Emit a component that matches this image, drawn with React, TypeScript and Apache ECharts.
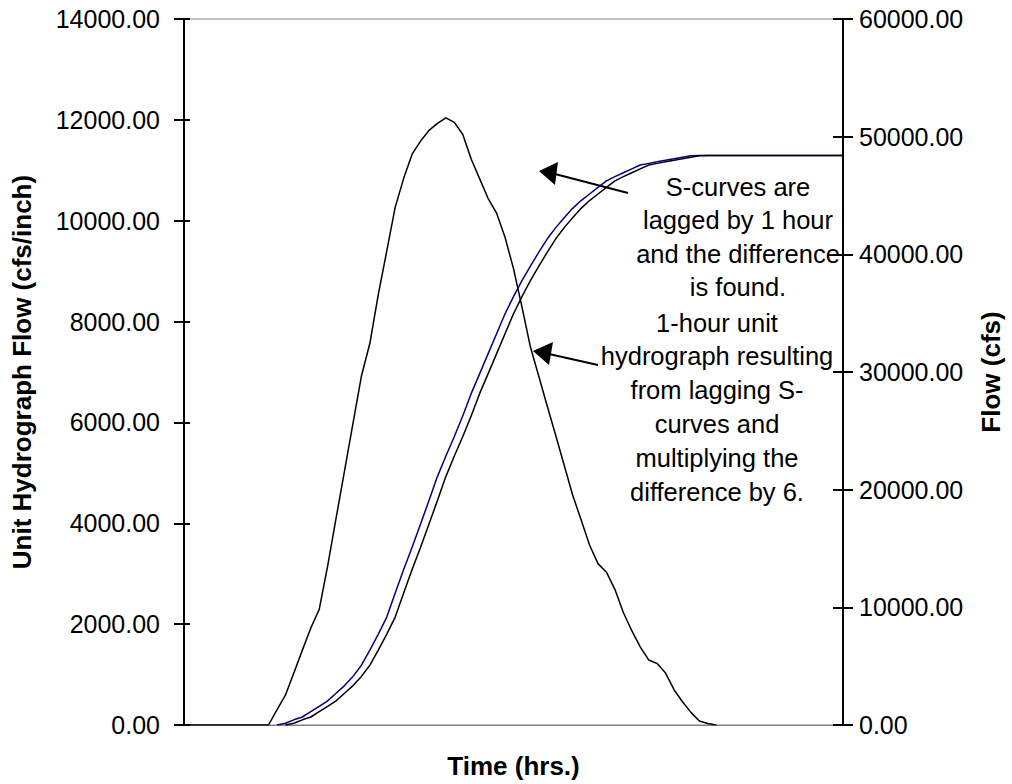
import React, { useEffect, useRef } from "react";
import * as echarts from "echarts";

const hours = [
  "0","1","2","3","4","5","6","7","8","9","10","11","12","13","14","15","16","17","18","19",
  "20","21","22","23","24","25","26","27","28","29","30","31","32","33","34","35","36","37","38","39",
  "40","41","42","43","44","45","46","47","48","49","50","51","52","53","54","55","56","57","58","59",
  "60","61","62","63","64","65","66","67","68","69","70","71","72","73","74","75","76","77","78",
];

// 1-hour unit hydrograph (cfs/inch), left axis
const unitHydrograph = [
  0, 0, 0, 0, 0, 0, 0, 0, 0, 0, 0,
  300, 590, 1030, 1480, 1920, 2290, 3150, 4100, 5040, 5980,
  6920, 7570, 8540, 9400, 10270, 10840, 11320, 11580, 11790, 11930,
  12040, 11950, 11710, 11220, 10830, 10440, 10150, 9670, 9050, 8290,
  7500, 6910, 6320, 5740, 5150, 4560, 4070, 3570, 3200, 3030,
  2690, 2230, 1870, 1550, 1290, 1220, 1030, 700, 460, 250,
  80, 30, 0,
];

// S-curve (cfs), right axis
const sCurve = [
  null, null, null, null, null, null, null, null, null, null, null,
  0, 150, 440, 680, 1130, 1580, 2050, 2700, 3350, 4130,
  5080, 6360, 7720, 9170, 11220, 13210, 15110, 17090, 19080, 21130,
  22860, 24520, 26280, 28180, 29860, 31560, 33250, 34950, 36410, 37770,
  38990, 40190, 41320, 42270, 43100, 43910, 44570, 45130, 45690, 46240,
  46600, 46930, 47260, 47590, 47730, 47860, 48000, 48120, 48260, 48380,
  48400, 48400, 48400, 48400, 48400, 48400, 48400, 48400, 48400, 48400,
  48400, 48400, 48400, 48400, 48400, 48400, 48400, 48400,
];

// S-curve lagged by 1 hour (cfs), right axis
const sCurveLagged = [
  null, null, null, null, null, null, null, null, null, null, null, null,
  0, 150, 440, 680, 1130, 1580, 2050, 2700, 3350, 4130,
  5080, 6360, 7720, 9170, 11220, 13210, 15110, 17090, 19080, 21130,
  22860, 24520, 26280, 28180, 29860, 31560, 33250, 34950, 36410, 37770,
  38990, 40190, 41320, 42270, 43100, 43910, 44570, 45130, 45690, 46240,
  46600, 46930, 47260, 47590, 47730, 47860, 48000, 48120, 48260, 48380,
  48400, 48400, 48400, 48400, 48400, 48400, 48400, 48400, 48400, 48400,
  48400, 48400, 48400, 48400, 48400, 48400, 48400,
];

const note1 = "S-curves are\nlagged by 1 hour\nand the difference\nis found.";
const note2 =
  "1-hour unit\nhydrograph resulting\nfrom lagging S-\ncurves and\nmultiplying the\ndifference by 6.";

const FONT = "'Liberation Sans', Arial, Helvetica, sans-serif";

export default function App() {
  const ref = useRef<HTMLDivElement>(null);

  useEffect(() => {
    if (!ref.current) return;
    const chart = echarts.init(ref.current, null, { renderer: "svg" });
    const fmt = (v: number) => v.toFixed(2);
    const labelStyle = { color: "#000", fontSize: 25, fontFamily: FONT };
    const nameStyle = { color: "#000", fontSize: 26, fontWeight: "bold" as const, fontFamily: FONT };

    chart.setOption({
      animation: false,
      backgroundColor: "#fff",
      grid: {
        left: 184,
        right: 166,
        top: 19,
        bottom: 58,
        show: true,
        borderColor: "#808080",
        borderWidth: 1,
        backgroundColor: "transparent",
      },
      xAxis: {
        type: "category",
        data: hours,
        boundaryGap: false,
        axisLine: { show: true, lineStyle: { color: "#808080", width: 1 } },
        axisTick: { show: false },
        axisLabel: { show: false },
        splitLine: { show: false },
        name: "Time (hrs.)",
        nameLocation: "middle",
        nameGap: 28,
        nameTextStyle: nameStyle,
      },
      yAxis: [
        {
          type: "value",
          position: "left",
          min: 0,
          max: 14000,
          interval: 2000,
          axisLine: { show: true, lineStyle: { color: "#000", width: 2 } },
          axisTick: { show: true, inside: false, length: 10, lineStyle: { color: "#000", width: 2 } },
          axisLabel: { ...labelStyle, formatter: fmt, margin: 24 },
          splitLine: { show: false },
          name: "Unit Hydrograph Flow (cfs/inch)",
          nameLocation: "middle",
          nameRotate: 90,
          nameGap: 149,
          nameTextStyle: nameStyle,
        },
        {
          type: "value",
          position: "right",
          min: 0,
          max: 60000,
          interval: 10000,
          axisLine: { show: true, lineStyle: { color: "#000", width: 2 } },
          axisTick: { show: true, inside: false, length: 10, lineStyle: { color: "#000", width: 2 } },
          axisLabel: { ...labelStyle, formatter: fmt, margin: 16 },
          splitLine: { show: false },
          name: "Flow (cfs)",
          nameLocation: "middle",
          nameRotate: 90,
          nameGap: 135,
          nameTextStyle: nameStyle,
        },
        {
          type: "value",
          position: "left",
          min: 0,
          max: 14000,
          interval: 2000,
          axisLine: { show: false },
          axisTick: { show: true, inside: true, length: 6, lineStyle: { color: "#000", width: 2 } },
          axisLabel: { show: false },
          splitLine: { show: false },
        },
        {
          type: "value",
          position: "right",
          min: 0,
          max: 60000,
          interval: 10000,
          axisLine: { show: false },
          axisTick: { show: true, inside: true, length: 10, lineStyle: { color: "#000", width: 2 } },
          axisLabel: { show: false },
          splitLine: { show: false },
        },
      ],
      series: [
        {
          name: "S-curve",
          type: "line",
          yAxisIndex: 1,
          data: sCurve,
          showSymbol: false,
          connectNulls: false,
          lineStyle: { color: "#000080", width: 1.5 },
          itemStyle: { color: "#000080" },
        },
        {
          name: "Lagged S-curve",
          type: "line",
          yAxisIndex: 1,
          data: sCurveLagged,
          showSymbol: false,
          lineStyle: { color: "#000", width: 1.5 },
          itemStyle: { color: "#000" },
        },
        {
          name: "1-hour unit hydrograph",
          type: "line",
          yAxisIndex: 0,
          data: unitHydrograph,
          showSymbol: false,
          lineStyle: { color: "#000", width: 1.5 },
          itemStyle: { color: "#000" },
        },
      ],
      graphic: [
        {
          type: "text",
          x: 738,
          y: 237,
          style: {
            text: note1,
            fill: "#000",
            fontSize: 25.5,
            fontFamily: FONT,
            align: "center",
            verticalAlign: "middle",
            lineHeight: 33.5,
          },
        },
        {
          type: "text",
          x: 717,
          y: 407,
          style: {
            text: note2,
            fill: "#000",
            fontSize: 25.5,
            fontFamily: FONT,
            align: "center",
            verticalAlign: "middle",
            lineHeight: 33.8,
          },
        },
        {
          type: "line",
          shape: { x1: 628, y1: 193, x2: 555, y2: 174 },
          style: { stroke: "#000", lineWidth: 2 },
        },
        {
          type: "polygon",
          shape: { points: [[539, 171], [558, 162], [555, 185]] },
          style: { fill: "#000" },
        },
        {
          type: "line",
          shape: { x1: 598, y1: 365, x2: 549, y2: 354 },
          style: { stroke: "#000", lineWidth: 2 },
        },
        {
          type: "polygon",
          shape: { points: [[533, 351], [553, 342], [549, 365]] },
          style: { fill: "#000" },
        },
      ],
    });

    return () => chart.dispose();
  }, []);

  return (
    <div
      ref={ref}
      style={{ position: "fixed", left: 0, top: 0, width: 1012, height: 784, background: "#fff" }}
    />
  );
}
